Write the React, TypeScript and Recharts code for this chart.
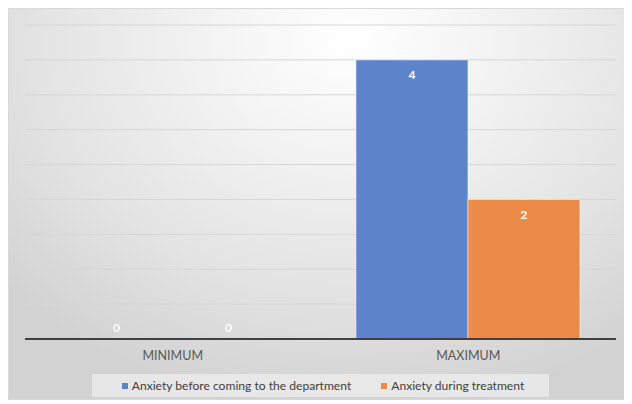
import { BarChart, Bar, XAxis, YAxis, CartesianGrid, Legend } from 'recharts';

const categories = ['MINIMUM', 'MAXIMUM'];
const beforeDept = [0, 4];
const duringTreatment = [0, 2];
const yTicks = [0, 0.5, 1, 1.5, 2, 2.5, 3, 3.5, 4, 4.5];

const BLUE = '#5b84ca';
const ORANGE = '#ec8b48';
const FONT = 'Lato, "Open Sans", sans-serif';

const data = categories.map((name, i) => ({
  name,
  before: beforeDept[i],
  during: duringTreatment[i],
}));

const seriesInfo = [
  { key: 'before', label: 'Anxiety before coming to the department', color: BLUE },
  { key: 'during', label: 'Anxiety during treatment', color: ORANGE },
];

// bar shape that also writes the value, so zero-height bars still get their "0"
function BarWithValue(props: any) {
  const { x, y, width, height, fill, value } = props;
  const v = Array.isArray(value) ? value[1] - value[0] : value;
  const cx = x + width / 2;
  const cy = v === 0 ? y + height - 12 : y + 15;
  return (
    <g>
      {height > 0 && (
        <rect
          x={x}
          y={y}
          width={width}
          height={height}
          fill={fill}
          stroke="rgba(255,255,255,0.5)"
          strokeWidth={1}
        />
      )}
      <text
        x={cx}
        y={cy}
        textAnchor="middle"
        dominantBaseline="central"
        fill="#ffffff"
        fontWeight="bold"
        fontSize={12}
        fontFamily={FONT}
      >
        {v}
      </text>
    </g>
  );
}

function LegendBox() {
  return (
    <div style={{ display: 'flex', justifyContent: 'center' }}>
      <div
        style={{
          display: 'flex',
          alignItems: 'center',
          height: 23,
          padding: '0 25px 0 30px',
          background: 'rgba(235,235,235,0.85)',
          fontFamily: FONT,
          fontSize: 12.1,
          color: '#404040',
        }}
      >
        {seriesInfo.map((s, i) => (
          <span
            key={s.key}
            style={{ display: 'flex', alignItems: 'center', marginLeft: i === 0 ? 0 : 30 }}
          >
            <span style={{ width: 6, height: 6, background: s.color, marginRight: 4 }} />
            {s.label}
          </span>
        ))}
      </div>
    </div>
  );
}

export default function App() {
  return (
    <div
      style={{
        width: 622,
        height: 390,
        border: '1px solid #d9d9d9',
        background:
          'radial-gradient(ellipse 75% 95% at 55% 8%, #ffffff 0%, #f1f1f1 35%, #e2e2e2 70%, #d2d2d2 100%)',
      }}
    >
      <BarChart
        width={622}
        height={390}
        data={data}
        margin={{ top: 16, right: 15, left: 16, bottom: 2 }}
        barGap={0}
        barCategoryGap="12%"
      >
        <CartesianGrid vertical={false} stroke="#d6d6d6" />
        <YAxis hide domain={[0, 4.5]} ticks={yTicks} />
        <XAxis
          dataKey="name"
          height={35}
          tickLine={false}
          axisLine={{ stroke: '#404040', strokeWidth: 2 }}
          tickMargin={6}
          tick={{ fontSize: 12.5, fill: '#595959', fontFamily: FONT }}
        />
        <Legend verticalAlign="bottom" wrapperStyle={{ bottom: 2 }} content={() => <LegendBox />} />
        {seriesInfo.map((s) => (
          <Bar
            key={s.key}
            dataKey={s.key}
            name={s.label}
            fill={s.color}
            shape={BarWithValue}
            isAnimationActive={false}
          />
        ))}
      </BarChart>
    </div>
  );
}
